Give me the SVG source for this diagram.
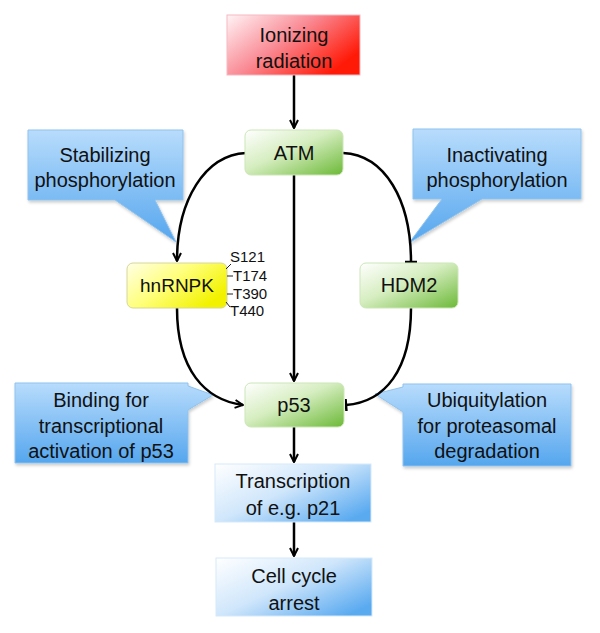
<svg xmlns="http://www.w3.org/2000/svg" width="600" height="633" viewBox="0 0 600 633">
<defs>
<linearGradient id="gRed" x1="0" y1="0" x2="1" y2="0.6">
<stop offset="0" stop-color="#fff4f6"/><stop offset="0.5" stop-color="#f98a94"/><stop offset="1" stop-color="#ff1a08"/>
</linearGradient>
<linearGradient id="gGreen" x1="0" y1="0" x2="1" y2="1">
<stop offset="0" stop-color="#ffffff"/><stop offset="0.45" stop-color="#d5edbf"/><stop offset="1" stop-color="#6cb937"/>
</linearGradient>
<linearGradient id="gYellow" x1="0" y1="0" x2="1" y2="0.6">
<stop offset="0" stop-color="#ffffe6"/><stop offset="0.5" stop-color="#ffff7a"/><stop offset="1" stop-color="#f2f200"/>
</linearGradient>
<linearGradient id="gCall" x1="0" y1="0" x2="0" y2="1">
<stop offset="0" stop-color="#b8dcfc"/><stop offset="1" stop-color="#55a6ee"/>
</linearGradient>
<linearGradient id="gBlue" x1="0" y1="0" x2="1" y2="0.8">
<stop offset="0" stop-color="#ffffff"/><stop offset="0.5" stop-color="#cfe6fb"/><stop offset="1" stop-color="#5aaaf0"/>
</linearGradient>
<filter id="sh" x="-10%" y="-10%" width="125%" height="130%">
<feDropShadow dx="1" dy="2" stdDeviation="1.5" flood-color="#000" flood-opacity="0.2"/>
</filter>
<marker id="arr" viewBox="0 0 10 10" refX="9" refY="5" markerWidth="10" markerHeight="10" markerUnits="userSpaceOnUse" orient="auto">
<path d="M1,1 L9,5 L1,9" fill="none" stroke="#000" stroke-width="2"/>
</marker>
<marker id="tbar" viewBox="0 0 4 12" refX="3" refY="6" markerWidth="4" markerHeight="12" markerUnits="userSpaceOnUse" orient="auto">
<path d="M3,0 V12" stroke="#000" stroke-width="2.5"/>
</marker>
</defs>
<style>
text{font-family:"Liberation Sans",Arial,sans-serif;font-size:20px;fill:#111;text-anchor:middle}
.site{font-size:15px;text-anchor:start}
.call{fill:url(#gCall);stroke:#8fc3ee;stroke-width:1;filter:url(#sh)}
.green{fill:url(#gGreen);stroke:#cde6b8;stroke-width:1}
.blue{fill:url(#gBlue);stroke:#d6e9fa;stroke-width:1}
.edge{fill:none;stroke:#000;stroke-width:2.5}
.tick{stroke:#222;stroke-width:1}
</style>

<g id="callout-stabilizing">
<path class="call" d="M28,130 H183 V200 H155 L176,242 L115,200 H28 Z"/>
<text x="105" y="162">Stabilizing</text>
<text x="105" y="187">phosphorylation</text>
</g>
<g id="callout-inactivating">
<path class="call" d="M413,129 H581 V199 H482 L409,243 L442,199 H413 Z"/>
<text x="497" y="162">Inactivating</text>
<text x="497" y="187">phosphorylation</text>
</g>
<g id="callout-binding">
<path class="call" d="M15,383 H188 V386 L213,395 L188,410 V463 H15 Z"/>
<text x="101" y="407">Binding for</text>
<text x="101" y="433">transcriptional</text>
<text x="101" y="458">activation of p53</text>
</g>
<g id="callout-ubiquitylation">
<path class="call" d="M403,384 H571 V466 H403 V412 L375,394 L403,387 Z"/>
<text x="487" y="407">Ubiquitylation</text>
<text x="487" y="433">for proteasomal</text>
<text x="487" y="458">degradation</text>
</g>

<g id="connectors">
<path class="edge" d="M294,75 V128" marker-end="url(#arr)"/>
<path class="edge" d="M246,153 C205,155 177,200 177,261" marker-end="url(#arr)"/>
<path class="edge" d="M343,153 C385,155 411,200 411,262" marker-end="url(#tbar)"/>
<path class="edge" d="M294,175 V381" marker-end="url(#arr)"/>
<path class="edge" d="M177,308 C177,370 205,400 243,405" marker-end="url(#arr)"/>
<path class="edge" d="M411,308 C411,370 385,402 346,405" marker-end="url(#tbar)"/>
<path class="edge" d="M294,427 V462" marker-end="url(#arr)"/>
<path class="edge" d="M294,522 V556" marker-end="url(#arr)"/>
</g>

<g id="node-ionizing">
<rect x="227" y="15" width="133" height="60" fill="url(#gRed)" stroke="#f5b9c2" stroke-width="1"/>
<text x="294" y="42">Ionizing</text>
<text x="294" y="68">radiation</text>
</g>
<g id="node-atm">
<rect class="green" x="245" y="130" width="98" height="45" rx="6"/>
<text x="294" y="160">ATM</text>
</g>
<g id="node-hnrnpk">
<rect x="127" y="263" width="100" height="45" rx="6" fill="url(#gYellow)" stroke="#d6d69c" stroke-width="1"/>
<text x="177" y="292" style="font-size:19px">hnRNPK</text>
<line class="tick" x1="226" y1="269" x2="231" y2="264"/>
<line class="tick" x1="227" y1="276" x2="233" y2="276"/>
<line class="tick" x1="227" y1="294" x2="233" y2="294"/>
<line class="tick" x1="226" y1="302" x2="230" y2="307"/>
<text class="site" x="230" y="262">S121</text>
<text class="site" x="233" y="281">T174</text>
<text class="site" x="233" y="299">T390</text>
<text class="site" x="230" y="316">T440</text>
</g>
<g id="node-hdm2">
<rect class="green" x="360" y="263" width="98" height="45" rx="6"/>
<text x="409" y="292">HDM2</text>
</g>
<g id="node-p53">
<rect class="green" x="245" y="383" width="99" height="44" rx="6"/>
<text x="294" y="412">p53</text>
</g>
<g id="node-transcription">
<rect class="blue" x="215" y="464" width="156" height="58"/>
<text x="293" y="488">Transcription</text>
<text x="293" y="515">of e.g. p21</text>
</g>
<g id="node-cellcycle">
<rect class="blue" x="216" y="558" width="156" height="58"/>
<text x="294" y="583">Cell cycle</text>
<text x="294" y="610">arrest</text>
</g>
</svg>
